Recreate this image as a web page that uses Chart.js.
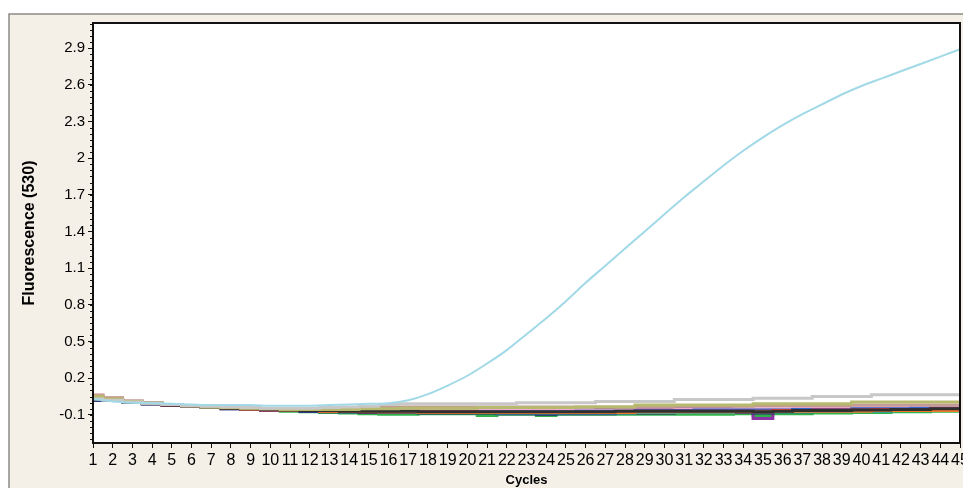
<!DOCTYPE html>
<html>
<head>
<meta charset="utf-8">
<script src="https://cdn.jsdelivr.net/npm/chart.js@4.4.0/dist/chart.umd.min.js"></script>
<style>
  html, body { margin: 0; padding: 0; background: #ffffff; }
  canvas { display: block; }
</style>
</head>
<body>
<canvas id="pcrChart" width="963" height="488"></canvas>
<script>
// Cycli (x-as)
const cycles = [1, 2, 3, 4, 5, 6, 7, 8, 9, 10, 11, 12, 13, 14, 15,
  16, 17, 18, 19, 20, 21, 22, 23, 24, 25, 26, 27, 28, 29, 30,
  31, 32, 33, 34, 35, 36, 37, 38, 39, 40, 41, 42, 43, 44, 45];

// Y-as labels
const yTicks = [-0.1, 0.2, 0.5, 0.8, 1.1, 1.4, 1.7, 2, 2.3, 2.6, 2.9];

// Positief staal (lichtblauwe curve)
const cyan = [0.03, 0.01, 0.0, -0.005, -0.01, -0.015, -0.02, -0.02, -0.02, -0.025, -0.025, -0.025, -0.02, -0.015, -0.01,
  -0.005, 0.02, 0.07, 0.14, 0.22, 0.32, 0.43, 0.56, 0.69, 0.83, 0.98, 1.12, 1.26, 1.40, 1.54,
  1.68, 1.81, 1.94, 2.06, 2.17, 2.27, 2.36, 2.44, 2.52, 2.59, 2.65, 2.71, 2.77, 2.83, 2.89];

// Negatieve stalen (vlakke lijnen)
const gray = [0.03, 0.02, 0.005, -0.005, -0.015, -0.025, -0.03, -0.035, -0.04, -0.045, -0.045, -0.045, -0.04, -0.035, -0.03,
  -0.015, -0.01, -0.01, -0.01, -0.01, -0.01, -0.01, 0.0, 0.0, 0.0, 0.0, 0.01, 0.01, 0.01, 0.01,
  0.025, 0.025, 0.025, 0.025, 0.035, 0.035, 0.035, 0.05, 0.05, 0.05, 0.065, 0.065, 0.065, 0.065, 0.065];
const olive = [0.05, 0.03, 0.01, -0.005, -0.015, -0.025, -0.035, -0.04, -0.045, -0.05, -0.055, -0.055, -0.055, -0.055, -0.05,
  -0.05, -0.045, -0.045, -0.045, -0.045, -0.04, -0.04, -0.04, -0.04, -0.04, -0.035, -0.035, -0.035, -0.02, -0.02,
  -0.02, -0.02, -0.02, -0.02, -0.01, -0.01, -0.01, -0.01, -0.01, 0.005, 0.005, 0.005, 0.005, 0.005, 0.005];
const tan = [0.06, 0.04, 0.015, 0.0, -0.015, -0.025, -0.035, -0.04, -0.045, -0.05, -0.05, -0.05, -0.05, -0.045, -0.04,
  -0.035, -0.035, -0.035, -0.035, -0.035, -0.035, -0.035, -0.035, -0.035, -0.035, -0.035, -0.035, -0.035, -0.035, -0.035,
  -0.03, -0.03, -0.03, -0.03, -0.025, -0.025, -0.025, -0.025, -0.025, -0.02, -0.02, -0.02, -0.02, -0.02, -0.02];
const pink = [0.04, 0.03, 0.01, -0.005, -0.015, -0.025, -0.035, -0.045, -0.05, -0.055, -0.06, -0.065, -0.065, -0.07, -0.07,
  -0.07, -0.065, -0.065, -0.065, -0.065, -0.065, -0.065, -0.065, -0.065, -0.065, -0.065, -0.065, -0.06, -0.06, -0.06,
  -0.055, -0.055, -0.055, -0.05, -0.05, -0.05, -0.045, -0.045, -0.045, -0.04, -0.04, -0.04, -0.035, -0.035, -0.035];
const purple = [0.03, 0.02, 0.005, -0.01, -0.02, -0.03, -0.04, -0.045, -0.055, -0.06, -0.065, -0.065, -0.07, -0.07, -0.075,
  -0.075, -0.075, -0.06, -0.06, -0.06, -0.06, -0.06, -0.06, -0.06, -0.06, -0.06, -0.055, -0.055, -0.055, -0.055,
  -0.05, -0.05, -0.05, -0.055, -0.13, -0.055, -0.05, -0.05, -0.045, -0.045, -0.04, -0.04, -0.04, -0.035, -0.035];
const blue = [0.02, 0.02, 0.005, -0.01, -0.02, -0.03, -0.04, -0.05, -0.055, -0.06, -0.065, -0.07, -0.07, -0.075, -0.075,
  -0.075, -0.08, -0.08, -0.075, -0.075, -0.075, -0.075, -0.075, -0.075, -0.075, -0.07, -0.07, -0.07, -0.065, -0.065,
  -0.065, -0.06, -0.06, -0.06, -0.06, -0.06, -0.055, -0.055, -0.055, -0.05, -0.05, -0.05, -0.045, -0.045, -0.045];
const red = [0.06, 0.035, 0.01, -0.005, -0.02, -0.03, -0.04, -0.045, -0.055, -0.06, -0.065, -0.065, -0.07, -0.07, -0.07,
  -0.075, -0.075, -0.075, -0.075, -0.075, -0.08, -0.08, -0.08, -0.08, -0.08, -0.08, -0.08, -0.075, -0.07, -0.07,
  -0.07, -0.07, -0.07, -0.07, -0.07, -0.065, -0.065, -0.06, -0.06, -0.06, -0.055, -0.055, -0.055, -0.05, -0.05];
const navy = [0.02, 0.025, 0.005, -0.01, -0.02, -0.03, -0.04, -0.05, -0.055, -0.06, -0.065, -0.07, -0.075, -0.075, -0.08,
  -0.08, -0.08, -0.085, -0.085, -0.085, -0.085, -0.09, -0.09, -0.095, -0.09, -0.09, -0.09, -0.085, -0.085, -0.085,
  -0.08, -0.08, -0.08, -0.08, -0.085, -0.075, -0.075, -0.07, -0.07, -0.065, -0.065, -0.06, -0.06, -0.055, -0.055];
const teal = [0.03, 0.025, 0.01, -0.005, -0.015, -0.025, -0.035, -0.045, -0.05, -0.055, -0.06, -0.06, -0.06, -0.065, -0.07,
  -0.075, -0.075, -0.08, -0.08, -0.08, -0.08, -0.085, -0.085, -0.085, -0.085, -0.085, -0.085, -0.085, -0.08, -0.08,
  -0.08, -0.08, -0.08, -0.075, -0.075, -0.075, -0.075, -0.07, -0.07, -0.07, -0.07, -0.065, -0.065, -0.065, -0.06];
const green = [0.04, 0.02, 0.01, -0.005, -0.015, -0.025, -0.035, -0.045, -0.055, -0.065, -0.07, -0.075, -0.08, -0.085, -0.09,
  -0.095, -0.095, -0.09, -0.09, -0.09, -0.105, -0.095, -0.095, -0.105, -0.095, -0.095, -0.095, -0.095, -0.095, -0.095,
  -0.095, -0.095, -0.095, -0.09, -0.105, -0.09, -0.09, -0.085, -0.085, -0.08, -0.08, -0.075, -0.075, -0.07, -0.07];
const orange = [0.05, 0.03, 0.01, -0.005, -0.015, -0.025, -0.035, -0.045, -0.05, -0.055, -0.06, -0.065, -0.07, -0.07, -0.075,
  -0.075, -0.075, -0.08, -0.08, -0.08, -0.08, -0.08, -0.08, -0.08, -0.08, -0.08, -0.08, -0.08, -0.075, -0.075,
  -0.075, -0.075, -0.075, -0.075, -0.075, -0.07, -0.07, -0.07, -0.07, -0.07, -0.065, -0.065, -0.065, -0.065, -0.065];
const black = [0.03, 0.02, 0.005, -0.01, -0.02, -0.03, -0.04, -0.045, -0.05, -0.055, -0.06, -0.065, -0.065, -0.07, -0.07,
  -0.07, -0.07, -0.075, -0.075, -0.075, -0.075, -0.075, -0.075, -0.075, -0.075, -0.075, -0.075, -0.07, -0.07, -0.07,
  -0.07, -0.07, -0.07, -0.07, -0.075, -0.07, -0.065, -0.065, -0.065, -0.06, -0.06, -0.055, -0.055, -0.05, -0.05];

// Kleuren per staal
const flatSeries = [
  { data: gray, color: '#c8c8c8' },
  { data: olive, color: '#b7ba6e' },
  { data: tan, color: '#c29c92' },
  { data: black, color: '#303030' },
  { data: orange, color: '#ef7a2e' },
  { data: teal, color: '#3aa6a6' },
  { data: red, color: '#e0363a' },
  { data: navy, color: '#26266e' },
  { data: blue, color: '#3464cc' },
  { data: pink, color: '#eeaacc' },
  { data: purple, color: '#8a34a6' },
  { data: green, color: '#2fb24c' }
];

const font = "'Liberation Sans', Arial, sans-serif";

// Achtergrond, kader en kleine tickjes
const framePlugin = {
  id: 'frame',
  beforeDraw(chart) {
    const { ctx, chartArea: a, width, height } = chart;
    ctx.save();
    ctx.fillStyle = '#ffffff';
    ctx.fillRect(0, 0, width, height);
    ctx.fillStyle = '#f4f0e7';
    ctx.fillRect(9, 14, width - 9, height - 14);
    ctx.strokeStyle = '#8c8a86';
    ctx.lineWidth = 1.5;
    ctx.beginPath();
    ctx.moveTo(9, height);
    ctx.lineTo(9, 14);
    ctx.lineTo(width, 14);
    ctx.stroke();
    ctx.fillStyle = '#ffffff';
    ctx.fillRect(a.left, a.top, a.right - a.left, a.bottom - a.top);
    ctx.restore();
  },
  afterDraw(chart) {
    const { ctx, chartArea: a } = chart;
    const y = chart.scales.y;
    ctx.save();
    ctx.strokeStyle = '#111111';
    ctx.lineWidth = 1;
    ctx.beginPath();
    for (let v = -0.3; v <= 3.1; v += 0.05) {
      const py = Math.round(y.getPixelForValue(v)) + 0.5;
      if (py < a.top || py > a.bottom) continue;
      ctx.moveTo(a.left - 3, py);
      ctx.lineTo(a.left, py);
    }
    ctx.stroke();
    ctx.lineWidth = 2;
    ctx.strokeRect(a.left, a.top, a.right - a.left, a.bottom - a.top);
    ctx.restore();
  }
};

const datasets = flatSeries.map(s => ({
  data: s.data,
  borderColor: s.color,
  borderWidth: 3,
  stepped: 'middle',
  pointRadius: 0
}));
datasets.unshift({
  data: cyan,
  borderColor: '#a2d9e7',
  borderWidth: 2,
  tension: 0.4,
  cubicInterpolationMode: 'monotone',
  pointRadius: 0
});

new Chart(document.getElementById('pcrChart'), {
  type: 'line',
  data: { labels: cycles, datasets: datasets },
  options: {
    responsive: false,
    animation: false,
    layout: { padding: { top: 23, right: 3, left: 0, bottom: 0 } },
    plugins: { legend: { display: false }, tooltip: { enabled: false } },
    scales: {
      x: {
        type: 'category',
        offset: false,
        grid: { drawOnChartArea: false, drawTicks: true, tickLength: 5, color: '#111111' },
        border: { display: true, color: '#111111', width: 2 },
        ticks: {
          autoSkip: false, maxRotation: 0, minRotation: 0, padding: 3,
          color: '#000000', font: { family: font, size: 16 }
        },
        title: {
          display: true, text: 'Cycles', color: '#000000',
          font: { family: font, size: 13, weight: 'bold' }, padding: { top: 2, bottom: 0 }
        },
        afterFit(scale) {
          scale.height = 45;
          scale.paddingLeft = 0;
          scale.paddingRight = 0;
        }
      },
      y: {
        min: -0.33,
        max: 3.105,
        afterBuildTicks(scale) {
          scale.ticks = yTicks.map(v => ({ value: v }));
        },
        grid: { drawOnChartArea: false, drawTicks: true, tickLength: 5, color: '#111111' },
        border: { display: true, color: '#111111', width: 2 },
        ticks: {
          padding: 3, color: '#000000', font: { family: font, size: 15 },
          callback: v => String(Number(v.toFixed(2)))
        },
        title: {
          display: true, text: 'Fluorescence (530)', color: '#000000',
          font: { family: font, size: 16, weight: 'bold' }, padding: { top: 20, bottom: 0 }
        },
        afterFit(scale) {
          scale.width = 93;
          scale.paddingTop = 0;
          scale.paddingBottom = 0;
        }
      }
    }
  },
  plugins: [framePlugin]
});
</script>
</body>
</html>
